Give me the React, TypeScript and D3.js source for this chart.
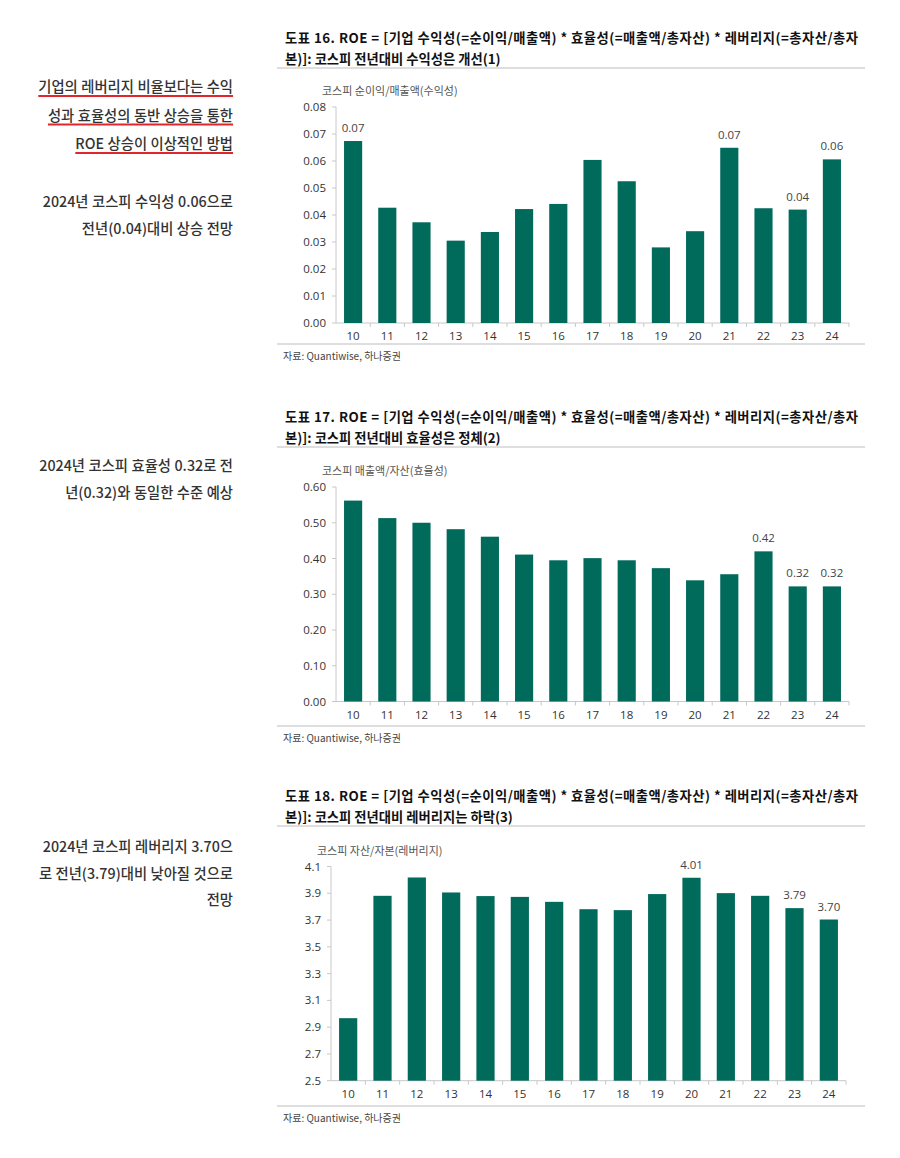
import React from "react";
import * as d3 from "d3";

const years = ["10","11","12","13","14","15","16","17","18","19","20","21","22","23","24"];

const profitability = [0.0674,0.0427,0.0373,0.0305,0.0337,0.0422,0.0441,0.0604,0.0525,0.0280,0.0340,0.0649,0.0425,0.0420,0.0606];
const profitLabels: Record<string,string> = { "10": "0.07", "21": "0.07", "23": "0.04", "24": "0.06" };
const profitTicks = [0,0.01,0.02,0.03,0.04,0.05,0.06,0.07,0.08];

const efficiency = [0.562,0.513,0.500,0.482,0.461,0.411,0.395,0.401,0.395,0.373,0.339,0.356,0.420,0.322,0.322];
const effLabels: Record<string,string> = { "22": "0.42", "23": "0.32", "24": "0.32" };
const effTicks = [0,0.1,0.2,0.3,0.4,0.5,0.6];

const leverage = [2.967,3.881,4.018,3.906,3.879,3.873,3.836,3.781,3.774,3.894,4.016,3.901,3.881,3.789,3.704];
const levLabels: Record<string,string> = { "20": "4.01", "23": "3.79", "24": "3.70" };
const levTicks = [2.5,2.7,2.9,3.1,3.3,3.5,3.7,3.9,4.1];

const titleLine1 = (n: number) => `도표 ${n}. ROE = [기업 수익성(=순이익/매출액) * 효율성(=매출액/총자산) * 레버리지(=총자산/총자`;
const titles2 = ["본)]: 코스피 전년대비 수익성은 개선(1)", "본)]: 코스피 전년대비 효율성은 정체(2)", "본)]: 코스피 전년대비 레버리지는 하락(3)"];
const subtitles = ["코스피 순이익/매출액(수익성)", "코스피 매출액/자산(효율성)", "코스피 자산/자본(레버리지)"];
const source = "자료: Quantiwise, 하나증권";

const KR = "'Noto Sans CJK KR', 'Noto Sans', sans-serif";
const NUM = "'Open Sans', 'Noto Sans', sans-serif";
const BAR = "#006a5b";
const AXIS = "#c8c8c8";

type ChartProps = {
  num: number;
  top: number;
  values: number[];
  labels: Record<string,string>;
  ticks: number[];
  fmt: (v: number) => string;
  yTop: number; yBottom: number;
  xLeft: number; xRight: number;
  bottomLine: number;
  idx: number;
};

function Chart(p: ChartProps) {
  const x = d3.scaleBand<string>().domain(years).range([p.xLeft, p.xRight]).paddingInner(0.47).paddingOuter(0.235);
  const y = d3.scaleLinear().domain([p.ticks[0], p.ticks[p.ticks.length - 1]]).range([p.yBottom, p.yTop]);
  const step = x.step();
  return (
    <g>
      <text x={285} y={p.top} fontFamily={KR} fontWeight={700} fontSize={13.3} fill="#111" textLength={573} lengthAdjust="spacing">{titleLine1(p.num)}</text>
      <text x={285} y={p.top + 21} fontFamily={KR} fontWeight={700} fontSize={13.3} fill="#111">{titles2[p.idx]}</text>
      <line x1={277} x2={865} y1={p.top + 25} y2={p.top + 25} stroke="#bdbdbd" strokeWidth={1.2} />
      <text x={p.xLeft - 14} y={p.yTop - 12} fontFamily={KR} fontSize={11} fill="#555">{subtitles[p.idx]}</text>
      <line x1={p.xLeft} x2={p.xLeft} y1={p.yTop} y2={p.yBottom} stroke={AXIS} />
      {p.ticks.map((t) => (
        <g key={t}>
          <line x1={p.xLeft - 4} x2={p.xLeft} y1={y(t)} y2={y(t)} stroke={AXIS} />
          <text x={p.xLeft - 10} y={y(t) + 4} textAnchor="end" fontFamily={NUM} fontSize={11.5} fill="#333">{p.fmt(t)}</text>
        </g>
      ))}
      <line x1={p.xLeft} x2={p.xRight} y1={p.yBottom} y2={p.yBottom} stroke={AXIS} />
      {years.map((yr, i) => (
        <g key={yr}>
          <line x1={p.xLeft + step * (i + 1)} x2={p.xLeft + step * (i + 1)} y1={p.yBottom} y2={p.yBottom + 4} stroke={AXIS} />
          <text x={(x(yr) as number) + x.bandwidth() / 2} y={p.yBottom + 17} textAnchor="middle" fontFamily={NUM} fontSize={11.5} fill="#333">{yr}</text>
        </g>
      ))}
      {years.map((yr, i) => (
        <rect key={yr} x={x(yr)} y={y(p.values[i])} width={x.bandwidth()} height={p.yBottom - y(p.values[i])} fill={BAR} />
      ))}
      {years.map((yr, i) => p.labels[yr] ? (
        <text key={yr} x={(x(yr) as number) + x.bandwidth() / 2} y={y(p.values[i]) - 9} textAnchor="middle" fontFamily={NUM} fontSize={11.5} fill="#444">{p.labels[yr]}</text>
      ) : null)}
      <line x1={277} x2={865} y1={p.bottomLine} y2={p.bottomLine} stroke="#bdbdbd" strokeWidth={1.2} />
      <text x={283} y={p.bottomLine + 16} fontFamily={KR} fontSize={10} fill="#444">{source}</text>
    </g>
  );
}

const leftBlocks: { lines: string[]; y0: number; underline?: boolean }[] = [
  { lines: ["기업의 레버리지 비율보다는 수익", "성과 효율성의 동반 상승을 통한", "ROE 상승이 이상적인 방법"], y0: 92, underline: true },
  { lines: ["2024년 코스피 수익성 0.06으로", "전년(0.04)대비 상승 전망"], y0: 207 },
  { lines: ["2024년 코스피 효율성 0.32로 전", "년(0.32)와 동일한 수준 예상"], y0: 471 },
  { lines: ["2024년 코스피 레버리지 3.70으", "로 전년(3.79)대비 낮아질 것으로", "전망"], y0: 852 },
];

function LeftText() {
  const [ws, setWs] = React.useState<number[][]>([]);
  const refs = React.useRef<(SVGTextElement | null)[][]>([]);
  React.useEffect(() => {
    setWs(refs.current.map((arr) => arr.map((t) => (t ? t.getComputedTextLength() : 0))));
  }, []);
  return (
    <g>
      {leftBlocks.map((b, bi) => {
        refs.current[bi] = refs.current[bi] || [];
        return (
          <g key={bi}>
            {b.lines.map((l, li) => {
              const yy = b.y0 + li * (b.underline ? 28.5 : 26.5);
              const w = ws[bi] ? ws[bi][li] : 0;
              return (
                <g key={li}>
                  <text ref={(el) => { refs.current[bi][li] = el; }} x={233} y={yy} textAnchor="end" fontFamily={KR} fontSize={14.3} fontWeight={500} wordSpacing={0.3} fill="#333">{l}</text>
                  {b.underline && w > 0 ? (
                    <line x1={233 - w} x2={233} y1={yy + 4} y2={yy + 4} stroke="#e0262b" strokeWidth={2} />
                  ) : null}
                </g>
              );
            })}
          </g>
        );
      })}
    </g>
  );
}

export default function App() {
  const f2 = (v: number) => v.toFixed(2);
  const f1 = (v: number) => v.toFixed(1);
  return (
    <svg width={900} height={1158} style={{ position: "absolute", left: 0, top: 0, background: "#fff" }}>
      <rect width={900} height={1158} fill="#fff" />
      <LeftText />
      <Chart num={16} idx={0} top={43} values={profitability} labels={profitLabels} ticks={profitTicks} fmt={f2}
        yTop={107} yBottom={323} xLeft={336} xRight={849} bottomLine={344} />
      <Chart num={17} idx={1} top={422} values={efficiency} labels={effLabels} ticks={effTicks} fmt={f2}
        yTop={487} yBottom={701.5} xLeft={336} xRight={849} bottomLine={726} />
      <Chart num={18} idx={2} top={801} values={leverage} labels={levLabels} ticks={levTicks} fmt={f1}
        yTop={866.5} yBottom={1080.7} xLeft={331} xRight={846} bottomLine={1106} />
    </svg>
  );
}
